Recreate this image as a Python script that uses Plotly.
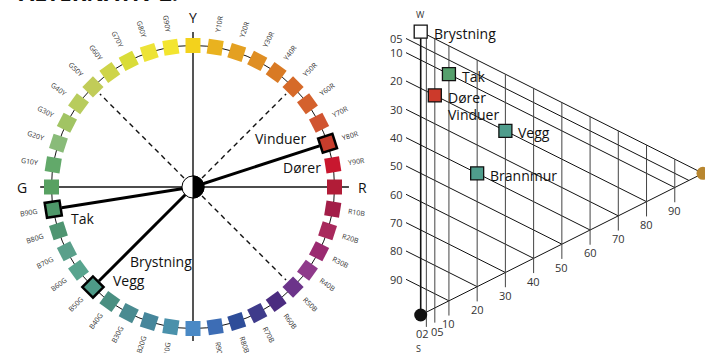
import math
import plotly.graph_objects as go

# ---------------- data: NCS hue circle ----------------
hue_names = [
    "Y", "Y10R", "Y20R", "Y30R", "Y40R", "Y50R", "Y60R", "Y70R", "Y80R", "Y90R",
    "R", "R10B", "R20B", "R30B", "R40B", "R50B", "R60B", "R70B", "R80B", "R90B",
    "B", "B10G", "B20G", "B30G", "B40G", "B50G", "B60G", "B70G", "B80G", "B90G",
    "G", "G10Y", "G20Y", "G30Y", "G40Y", "G50Y", "G60Y", "G70Y", "G80Y", "G90Y"]
hue_colors = [
    "#f3d21c", "#e9b21f", "#e4a021", "#df8e23", "#d97a24", "#d66a29", "#d4612d", "#d05431", "#c73d2c", "#c8172f",
    "#b11c37", "#a31e48", "#a8295c", "#9a2a70", "#8f3a8b", "#6c348a", "#4b2c80", "#3f3b8b", "#2e4d99", "#3d6db5",
    "#4a89c5", "#4a91ab", "#46869b", "#4a8b91", "#4a8f81", "#4e9a88", "#58a48e", "#5aa08b", "#4f9571", "#4e9869",
    "#58a162", "#62a96a", "#89bb79", "#a1c463", "#b8cc5d", "#c1cc58", "#ced449", "#d9dc39", "#ede337", "#f3e52f"]
primary_hues = ["Y", "R", "B", "G"]
highlight_hues = ["B90G", "B50G", "Y80R"]
dashed_hues = ["Y50R", "G50Y", "R50B"]
circle_names = ["Vinduer", "Dører", "Tak", "Brystning", "Vegg"]

# ---------------- data: NCS triangle ----------------
tri_names = ["Brystning", "Tak", "Dører", "Vegg", "Brannmur"]
tri_black = [0, 10, 20, 20, 40]
tri_chroma = [0, 10, 5, 30, 20]
tri_colors = ["#ffffff", "#55a06c", "#cc3a2b", "#4f9d8c", "#4f9d8c"]
s_ticks = [5, 10, 20, 30, 40, 50, 60, 70, 80, 90]
s_tick_labels = ["05", "10", "20", "30", "40", "50", "60", "70", "80", "90"]
c_ticks = [2, 5, 10, 20, 30, 40, 50, 60, 70, 80, 90]
c_tick_labels = ["02", "05", "10", "20", "30", "40", "50", "60", "70", "80", "90"]

FONT = "Open Sans"
W_PX, H_PX = 705, 353

fig = go.Figure()

# ---------- circle geometry helpers ----------
def hue_angle(name):
    return math.radians(90 - 9 * hue_names.index(name))

def polar(name, r):
    a = hue_angle(name)
    return r * math.cos(a), r * math.sin(a)

CX = dict(xref="x", yref="y")

# circle line
fig.add_shape(type="circle", x0=-1, y0=-1, x1=1, y1=1, line=dict(color="#111", width=1), layer="below", **CX)
# axes
fig.add_shape(type="line", x0=0, y0=1.095, x1=0, y1=-1.088, line=dict(color="#555", width=2), layer="below", **CX)
fig.add_shape(type="line", x0=-1.08, y0=0, x1=1.102, y1=0, line=dict(color="#111", width=1.3), layer="below", **CX)
# dashed lines
for h in dashed_hues:
    x0, y0 = polar(h, 0.09)
    x1, y1 = polar(h, 0.93)
    fig.add_shape(type="line", x0=x0, y0=y0, x1=x1, y1=y1,
                  line=dict(color="#111", width=1.4, dash="5px,4px"), layer="below", **CX)
# thick lines to highlighted hues
for h in highlight_hues:
    x1, y1 = polar(h, 0.94)
    fig.add_shape(type="line", x0=0, y0=0, x1=x1, y1=y1,
                  line=dict(color="#000", width=3), layer="below", **CX)

# hue squares
hx = [polar(h, 1)[0] for h in hue_names]
hy = [polar(h, 1)[1] for h in hue_names]
hang = [(-(90 - 9 * i)) % 90 for i in range(len(hue_names))]
fig.add_trace(go.Scatter(
    x=hx, y=hy, mode="markers", xaxis="x", yaxis="y", hoverinfo="skip", showlegend=False,
    marker=dict(symbol="square", size=15, color=hue_colors, angle=hang, line=dict(width=0))))
hi_idx = [hue_names.index(h) for h in highlight_hues]
fig.add_trace(go.Scatter(
    x=[hx[i] for i in hi_idx], y=[hy[i] for i in hi_idx], mode="markers", xaxis="x", yaxis="y",
    hoverinfo="skip", showlegend=False,
    marker=dict(symbol="square", size=15, color=[hue_colors[i] for i in hi_idx],
                angle=[hang[i] for i in hi_idx], line=dict(width=2.5, color="#000"))))

# center symbol
r = 0.078
k = 0.5523 * r
fig.add_shape(type="circle", x0=-r, y0=-r, x1=r, y1=r, fillcolor="#fff",
              line=dict(color="#000", width=1), **CX)
fig.add_shape(type="path", path=f"M 0,{-r} C {k},{-r} {r},{-k} {r},0 C {r},{k} {k},{r} 0,{r} Z",
              fillcolor="#000", line=dict(color="#000", width=1), **CX)

# hue labels
for i, h in enumerate(hue_names):
    if h in primary_hues:
        continue
    deg = 90 - 9 * i
    a = math.radians(deg)
    ta = -deg if math.cos(a) > 0 else 180 - deg
    ta = ((ta + 180) % 360) - 180
    fig.add_annotation(x=1.172 * math.cos(a), y=1.172 * math.sin(a), text=h, showarrow=False,
                       textangle=ta, font=dict(family=FONT, size=7, color="#333"), **CX)

# primary letters
letter_pos = {"Y": (0, 1.2), "R": (1.2, 0), "B": (0, -1.2), "G": (-1.207, 0)}
for h in primary_hues:
    fig.add_annotation(x=letter_pos[h][0], y=letter_pos[h][1], text=h, showarrow=False,
                       font=dict(family=FONT, size=14, color="#111"), **CX)

# element labels on circle
name_pos = [(0.615, 0.346), (0.77, 0.141), (-0.784, -0.226), (-0.226, -0.523), (-0.452, -0.664)]
for nm, (x, y) in zip(circle_names, name_pos):
    fig.add_annotation(x=x, y=y, text=nm, showarrow=False,
                       font=dict(family=FONT, size=14, color="#111"), **CX)

# ---------- triangle geometry: X = chromaticness, Y = blackness + c/2 ----------
TX = dict(xref="x2", yref="y2")

def tri_xy(s, c):
    return c, s + c / 2

# edges
wx, wy = tri_xy(0, 0)
sx, sy = tri_xy(100, 0)
cx_, cy_ = tri_xy(0, 100)
fig.add_shape(type="line", x0=wx, y0=wy, x1=sx, y1=sy, line=dict(color="#111", width=1.6), layer="below", **TX)
fig.add_shape(type="line", x0=sx, y0=sy, x1=cx_, y1=cy_, line=dict(color="#111", width=1), layer="below", **TX)
fig.add_shape(type="line", x0=wx, y0=wy, x1=cx_, y1=cy_, line=dict(color="#111", width=1), layer="below", **TX)

EXT = 5.2
for s, lab in zip(s_ticks, s_tick_labels):
    x0, y0 = tri_xy(s, -EXT)
    x1, y1 = tri_xy(s, 100 - s)
    fig.add_shape(type="line", x0=x0, y0=y0, x1=x1, y1=y1, line=dict(color="#111", width=1), layer="below", **TX)
    fig.add_annotation(x=x0, y=y0, text=lab, showarrow=False, xanchor="right", xshift=-1,
                       font=dict(family=FONT, size=11, color="#333"), **TX)

c_xshift = {"02": -4, "05": 3}
c_yshift = {"02": 2, "05": -1}
for c, lab in zip(c_ticks, c_tick_labels):
    x0, y0 = tri_xy(0, c)
    x1, y1 = tri_xy(100 - c, c)
    fig.add_shape(type="line", x0=x0, y0=y0, x1=x1, y1=y1 + EXT, line=dict(color="#444", width=1), layer="below", **TX)
    fig.add_annotation(x=x1, y=y1 + 8.1, text=lab, showarrow=False,
                       xshift=c_xshift.get(lab, 0), yshift=c_yshift.get(lab, 0),
                       font=dict(family=FONT, size=11, color="#333"), **TX)

# vertices
fig.add_trace(go.Scatter(x=[sx], y=[sy], mode="markers", xaxis="x2", yaxis="y2", hoverinfo="skip",
                         showlegend=False, marker=dict(symbol="circle", size=13, color="#111")))
fig.add_trace(go.Scatter(x=[cx_], y=[cy_], mode="markers", xaxis="x2", yaxis="y2", hoverinfo="skip",
                         showlegend=False, marker=dict(symbol="circle", size=13, color="#b8862f")))
fig.add_annotation(x=wx, y=wy, yshift=17, text="W", showarrow=False, font=dict(family=FONT, size=9, color="#333"), **TX)
fig.add_annotation(x=sx, y=sy, yshift=-33, xshift=-2, text="S", showarrow=False, font=dict(family=FONT, size=9, color="#333"), **TX)

# element markers
px_ = [tri_xy(s, c)[0] for s, c in zip(tri_black, tri_chroma)]
py_ = [tri_xy(s, c)[1] for s, c in zip(tri_black, tri_chroma)]
fig.add_trace(go.Scatter(x=px_, y=py_, mode="markers", xaxis="x2", yaxis="y2", hoverinfo="skip",
                         showlegend=False,
                         marker=dict(symbol="square", size=13, color=tri_colors, line=dict(color="#111", width=1.3))))
for nm, x, y in zip(tri_names, px_, py_):
    fig.add_annotation(x=x, y=y, text=nm, showarrow=False, xanchor="left", xshift=11, yshift=-2,
                       font=dict(family=FONT, size=14, color="#111"), **TX)
i_d = tri_names.index("Dører")
fig.add_annotation(x=px_[i_d], y=py_[i_d], text="Vinduer", showarrow=False, xanchor="left", xshift=11, yshift=-19,
                   font=dict(family=FONT, size=14, color="#111"), **TX)

# cut-off title
fig.add_annotation(xref="paper", yref="paper", x=17 / W_PX, y=1 - 9 / H_PX, xanchor="left", yanchor="bottom",
                   text="<b>ALTERNATIV 2:</b>", showarrow=False, font=dict(family=FONT, size=22, color="#111"))

# ---------- axes ----------
S1 = 141.5
S2x, S2y = 2.823, 2.833
C1 = (193, 187)
W0 = (420.7, 31.7)
ax_off = dict(visible=False, showgrid=False, zeroline=False, fixedrange=True)
fig.update_layout(
    width=W_PX, height=H_PX, margin=dict(l=0, r=0, t=0, b=0),
    paper_bgcolor="#fff", plot_bgcolor="rgba(0,0,0,0)",
    xaxis=dict(domain=[0, 1], range=[-C1[0] / S1, (W_PX - C1[0]) / S1], anchor="y", **ax_off),
    yaxis=dict(domain=[0, 1], range=[-(H_PX - C1[1]) / S1, C1[1] / S1], anchor="x", **ax_off),
    xaxis2=dict(domain=[0, 1], range=[-W0[0] / S2x, (W_PX - W0[0]) / S2x], anchor="y2", **ax_off),
    yaxis2=dict(domain=[0, 1], range=[(H_PX - W0[1]) / S2y, -W0[1] / S2y], anchor="x2", **ax_off),
    showlegend=False,
)

fig.write_html("out.html", config={"displayModeBar": False},
               post_script="document.body.style.margin='0px';document.body.style.overflow='hidden';")
